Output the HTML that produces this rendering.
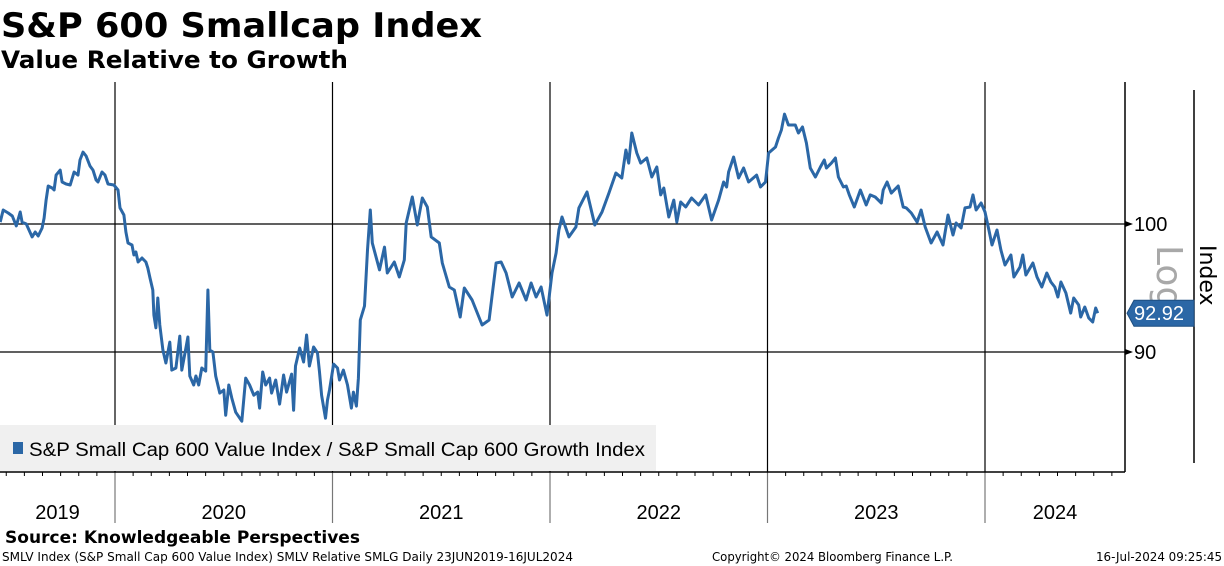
<!DOCTYPE html>
<html><head><meta charset="utf-8"><style>
html,body{margin:0;padding:0;background:#fff;}
svg{display:block;font-family:"DejaVu Sans","Liberation Sans",sans-serif;}
</style></head><body>
<svg id="chart" width="1224" height="566" viewBox="0 0 1224 566">
<text x="1" y="37" font-size="34" font-weight="bold" textLength="481" lengthAdjust="spacingAndGlyphs">S&amp;P 600 Smallcap Index</text>
<text x="1" y="68" font-size="24" font-weight="bold" textLength="347" lengthAdjust="spacingAndGlyphs">Value Relative to Growth</text>
<g id="grid"></g>
<g id="xaxis"></g>
<line x1="1125" y1="82" x2="1125" y2="472" stroke="#000" stroke-width="1.5"/>
<line x1="0" y1="472" x2="1125" y2="472" stroke="#000" stroke-width="1.5"/>
<g id="yaxis"></g>
<rect x="0" y="425" width="656" height="46" fill="#f0f0f0"/>
<rect x="13" y="442" width="10" height="12" fill="#2b67a6"/>
<text x="29" y="456" font-size="19" font-family="Liberation Sans, sans-serif" textLength="616" lengthAdjust="spacingAndGlyphs">S&amp;P Small Cap 600 Value Index / S&amp;P Small Cap 600 Growth Index</text>
<path id="series" fill="none" stroke="#2b67a6" stroke-width="3" stroke-linejoin="round"/>
<line x1="1194" y1="90" x2="1194" y2="463" stroke="#000" stroke-width="1.5"/>
<text x="0" y="0" font-size="36" fill="#a8a8a8" transform="translate(1157,245) rotate(90)">Log</text>
<text x="0" y="0" font-size="22" transform="translate(1200,245) rotate(90)">Index</text>
<polygon id="lastbox" fill="#2b67a6" stroke="#1d4e80"/>
<text id="lasttxt" x="1134" font-size="20" fill="#fff" font-family="Liberation Sans, sans-serif"></text>
<text x="5" y="543" font-size="17" font-weight="bold" textLength="355" lengthAdjust="spacingAndGlyphs">Source: Knowledgeable Perspectives</text>
<text x="2" y="561" font-size="12" textLength="571" lengthAdjust="spacingAndGlyphs">SMLV Index (S&amp;P Small Cap 600 Value Index) SMLV Relative SMLG  Daily 23JUN2019-16JUL2024</text>
<text x="712" y="561" font-size="12" textLength="241" lengthAdjust="spacingAndGlyphs">Copyright© 2024 Bloomberg Finance L.P.</text>
<text x="1096" y="561" font-size="12" textLength="126" lengthAdjust="spacingAndGlyphs">16-Jul-2024 09:25:45</text>
</svg>
<script>
const times=[2019.472,2019.486,2019.509,2019.528,2019.546,2019.564,2019.573,2019.592,2019.619,2019.633,2019.647,2019.665,2019.674,2019.683,2019.693,2019.711,2019.720,2019.729,2019.748,2019.757,2019.775,2019.794,2019.812,2019.830,2019.839,2019.853,2019.867,2019.885,2019.899,2019.913,2019.922,2019.940,2019.954,2019.968,2019.995,2020.014,2020.023,2020.041,2020.050,2020.060,2020.078,2020.087,2020.096,2020.106,2020.124,2020.142,2020.151,2020.161,2020.174,2020.179,2020.188,2020.197,2020.206,2020.220,2020.234,2020.252,2020.261,2020.280,2020.298,2020.307,2020.326,2020.335,2020.344,2020.362,2020.372,2020.385,2020.399,2020.417,2020.427,2020.436,2020.450,2020.463,2020.482,2020.500,2020.509,2020.523,2020.537,2020.555,2020.583,2020.601,2020.619,2020.638,2020.656,2020.665,2020.679,2020.693,2020.711,2020.720,2020.739,2020.757,2020.775,2020.789,2020.812,2020.821,2020.830,2020.849,2020.867,2020.881,2020.894,2020.913,2020.931,2020.940,2020.950,2020.968,2020.977,2020.986,2021.005,2021.023,2021.032,2021.050,2021.069,2021.087,2021.096,2021.110,2021.119,2021.128,2021.147,2021.161,2021.174,2021.183,2021.216,2021.239,2021.252,2021.284,2021.307,2021.330,2021.339,2021.367,2021.390,2021.413,2021.436,2021.454,2021.491,2021.505,2021.537,2021.560,2021.587,2021.606,2021.642,2021.688,2021.720,2021.752,2021.775,2021.798,2021.826,2021.858,2021.890,2021.913,2021.936,2021.959,2021.986,2022.009,2022.028,2022.041,2022.055,2022.087,2022.119,2022.133,2022.170,2022.206,2022.239,2022.271,2022.303,2022.330,2022.349,2022.362,2022.376,2022.399,2022.417,2022.445,2022.468,2022.491,2022.509,2022.523,2022.546,2022.569,2022.583,2022.601,2022.624,2022.651,2022.683,2022.716,2022.743,2022.775,2022.798,2022.812,2022.821,2022.844,2022.867,2022.890,2022.913,2022.950,2022.968,2022.991,2023.005,2023.037,2023.050,2023.064,2023.078,2023.096,2023.128,2023.142,2023.161,2023.179,2023.197,2023.220,2023.243,2023.261,2023.271,2023.294,2023.312,2023.326,2023.349,2023.362,2023.376,2023.399,2023.427,2023.454,2023.472,2023.495,2023.523,2023.532,2023.550,2023.569,2023.601,2023.624,2023.638,2023.661,2023.688,2023.706,2023.725,2023.752,2023.780,2023.807,2023.830,2023.853,2023.867,2023.890,2023.908,2023.931,2023.945,2023.959,2023.982,2024.000,2024.018,2024.032,2024.055,2024.073,2024.092,2024.119,2024.133,2024.161,2024.174,2024.188,2024.220,2024.239,2024.261,2024.284,2024.303,2024.321,2024.335,2024.349,2024.372,2024.394,2024.408,2024.431,2024.440,2024.459,2024.477,2024.495,2024.509,2024.518];
const values=[100.16,101.16,100.91,100.66,99.84,100.99,100.16,100.00,98.94,99.34,99.02,99.67,100.49,101.99,103.18,103.01,102.84,104.11,104.54,103.52,103.35,103.26,104.37,104.11,105.41,106.10,105.76,104.89,104.54,103.69,103.52,104.37,104.11,103.35,103.26,102.84,101.33,100.74,99.34,98.45,98.29,97.48,97.72,96.92,97.24,96.92,96.44,95.65,94.71,92.78,91.81,94.09,92.02,90.15,89.19,90.74,88.67,88.82,91.19,88.67,90.30,91.12,88.24,87.59,88.24,87.59,88.82,88.60,94.71,90.15,90.00,88.24,87.01,87.23,85.44,87.59,86.65,85.65,85.02,88.09,87.59,86.86,87.08,85.94,88.53,87.59,88.09,87.01,87.95,86.22,88.31,87.08,88.38,85.79,88.97,90.30,89.26,91.27,88.97,90.37,89.93,88.53,86.86,85.23,86.51,87.23,89.11,88.82,87.95,88.67,87.59,85.94,87.08,86.08,88.09,92.40,93.47,97.88,101.16,98.45,96.29,98.12,96.05,96.92,95.73,97.08,100.08,102.25,99.92,102.16,101.41,98.94,98.45,96.84,94.95,94.71,92.63,94.87,93.94,92.02,92.40,96.84,96.92,96.05,94.17,95.26,93.94,95.26,94.17,94.95,92.78,96.05,97.64,99.51,100.58,98.94,99.75,101.33,102.67,99.92,100.99,102.58,104.29,103.86,106.28,105.14,107.78,106.02,105.14,105.58,103.94,104.80,102.42,103.01,100.58,101.99,100.16,101.83,101.41,102.16,101.58,102.42,100.33,101.99,103.52,103.09,104.37,105.67,103.86,104.72,103.52,104.11,103.09,103.52,106.02,106.54,107.33,108.04,109.47,108.49,108.49,107.78,108.31,106.89,104.72,103.94,104.80,105.41,104.72,105.14,105.58,103.94,103.09,103.18,102.42,101.41,102.84,101.58,102.42,102.25,101.74,102.84,103.52,102.58,103.18,101.41,101.33,100.91,100.16,101.16,99.75,98.45,99.34,98.29,100.74,99.10,100.08,99.67,101.33,101.41,102.42,101.16,101.74,100.99,99.51,98.29,99.51,97.88,96.68,97.48,95.73,96.52,97.48,95.89,96.84,95.73,94.95,96.05,95.34,94.95,94.17,95.34,94.48,92.93,94.09,93.55,92.63,93.40,92.56,92.25,93.32,92.92];
const yearTicks=[2019,2020,2021,2022,2023,2024];
const yTicks=[90,100];
const lastValue=92.92;

const NS='http://www.w3.org/2000/svg';
function xScale(t){return 115+(t-2020)*217.5;}
function yScale(v){return 224-1215*Math.log(v/100);}
function mk(tag,attrs,parent){const e=document.createElementNS(NS,tag);for(const k in attrs)e.setAttribute(k,attrs[k]);parent.appendChild(e);return e;}
const grid=document.getElementById('grid'),xa=document.getElementById('xaxis'),ya=document.getElementById('yaxis');

yearTicks.forEach(function(yr){
  const x=xScale(yr);
  if(yr>2019){
    const g=mk('line',{x1:x,y1:82,x2:x,y2:472,stroke:'#000','stroke-width':1.2},grid);
    
    
    const s=mk('line',{x1:x,y1:472,x2:x,y2:523,stroke:'#777','stroke-width':1.2},xa);
    
    
  }
  for(let m=1;m<12;m++){
    const xm=xScale(yr+m/12);
    if(xm<2||xm>1122)continue;
    const tk=mk('line',{x1:xm,y1:472,x2:xm,y2:476,stroke:'#000','stroke-width':1},xa);
    
    
  }
  const cx=Math.max(xScale(yr),0),nx=Math.min(xScale(yr+1),1125);
  const lb=mk('text',{x:(cx+nx)/2,y:519,'font-size':20,'text-anchor':'middle','font-family':'Liberation Sans, sans-serif'},xa);
  lb.textContent=String(yr);
  
  
});

yTicks.forEach(function(v){
  const y=yScale(v);
  const l=mk('line',{x1:0,y1:y,x2:1125,y2:y,stroke:'#000','stroke-width':1.2},grid);
  
  
  const a=mk('polygon',{points:(1125)+','+(y-3)+' '+(1133)+','+y+' '+(1125)+','+(y+3),fill:'#000'},ya);
  
  
  const t=mk('text',{x:1134,y:y+7,'font-size':20,'font-family':'Liberation Sans, sans-serif'},ya);
  t.textContent=String(v);
  
  
});

let d='';
for(let i=0;i<times.length;i++){d+=(i?'L':'M')+xScale(times[i]).toFixed(1)+','+yScale(values[i]).toFixed(1);}
document.getElementById('series').setAttribute('d',d);

const ly=yScale(lastValue);
document.getElementById('lastbox').setAttribute('points','1127,'+ly+' 1134,'+(ly-13)+' 1194,'+(ly-13)+' 1194,'+(ly+13)+' 1134,'+(ly+13));
const lt=document.getElementById('lasttxt');
lt.setAttribute('y',ly+7);
lt.textContent=lastValue.toFixed(2);
</script>
</body></html>
